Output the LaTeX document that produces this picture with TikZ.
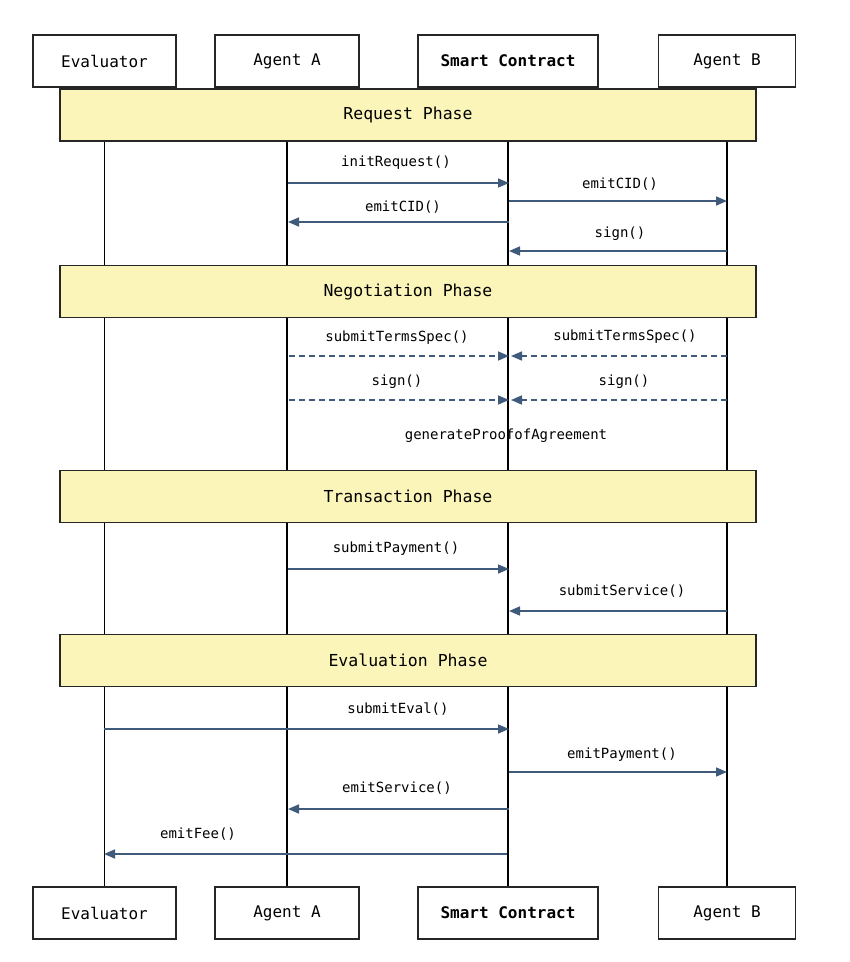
\documentclass[tikz,border=0pt]{standalone}
\usepackage{fontspec}
\setmainfont{DejaVu Sans Mono}
\usetikzlibrary{arrows.meta}
\definecolor{arr}{HTML}{3F5A7A}
\definecolor{bar}{HTML}{FBF5B9}
\begin{document}
\begin{tikzpicture}[x=1pt,y=-1pt,
 actor/.style={draw=black!85,line width=1.3pt,fill=white,minimum height=52pt,inner sep=0pt,font=\fontsize{16}{19}\selectfont},
 phase/.style={draw=black!85,line width=1.3pt,fill=bar,minimum width=696pt,minimum height=52pt,font=\fontsize{16.5}{19}\selectfont},
 msg/.style={draw=arr,line width=1.6pt,-{Triangle[length=11pt,width=9pt]}},
 dmsg/.style={msg,dash pattern=on 6pt off 4pt},
 lab/.style={font=\fontsize{14}{17}\selectfont},
 life/.style={line width=1.6pt,black}]
\useasboundingbox (0,0) rectangle (850,962);
\foreach \n/\x/\w/\t in {e/104.5/143/Evaluator,a/287/144/Agent A,s/508/180/\textbf{Smart Contract},b/727/137/Agent B}{
 \node[actor,minimum width=\w pt] (\n1) at (\x,61) {\t};
 \node[actor,minimum width=\w pt] (\n2) at (\x,913) {\t};
 \draw[life] (\n1.south) -- (\n2.north);
}
\node[phase] (p1) at (408,115) {Request Phase};
\node[phase] (p2) at (408,291.5) {Negotiation Phase};
\node[phase] (p3) at (408,496.5) {Transaction Phase};
\node[phase] (p4) at (408,660.5) {Evaluation Phase};
\foreach \f/\t/\y/\l/\lx/\ly/\st in {288/509/183/initRequest()/396/163/msg, 509/727/201/emitCID()/620/184/msg, 509/288/222/emitCID()/403/207/msg, 727/509/251/sign()/620/234/msg,
 289/509/356/submitTermsSpec()/397/338/dmsg, 727/511/356/submitTermsSpec()/625/337/dmsg, 289/509/400/sign()/397/382/dmsg, 727/511/400/sign()/624/382/dmsg,
 288/509/569/submitPayment()/396/549/msg, 727/509/611/submitService()/622/591/msg, 104/509/729/submitEval()/398/709/msg, 509/727/772/emitPayment()/622/755/msg,
 509/288/809/emitService()/397/788/msg, 507/104/854/emitFee()/198/834/msg}{
 \coordinate (from) at (\f,\y); \coordinate (to) at (\t,\y);
 \draw[\st] (from) -- (to);
 \node[lab] at (\lx,\ly) {\l};
}
\node[lab] (g) at (506,436) {generateProofofAgreement};
\end{tikzpicture}
\end{document}
